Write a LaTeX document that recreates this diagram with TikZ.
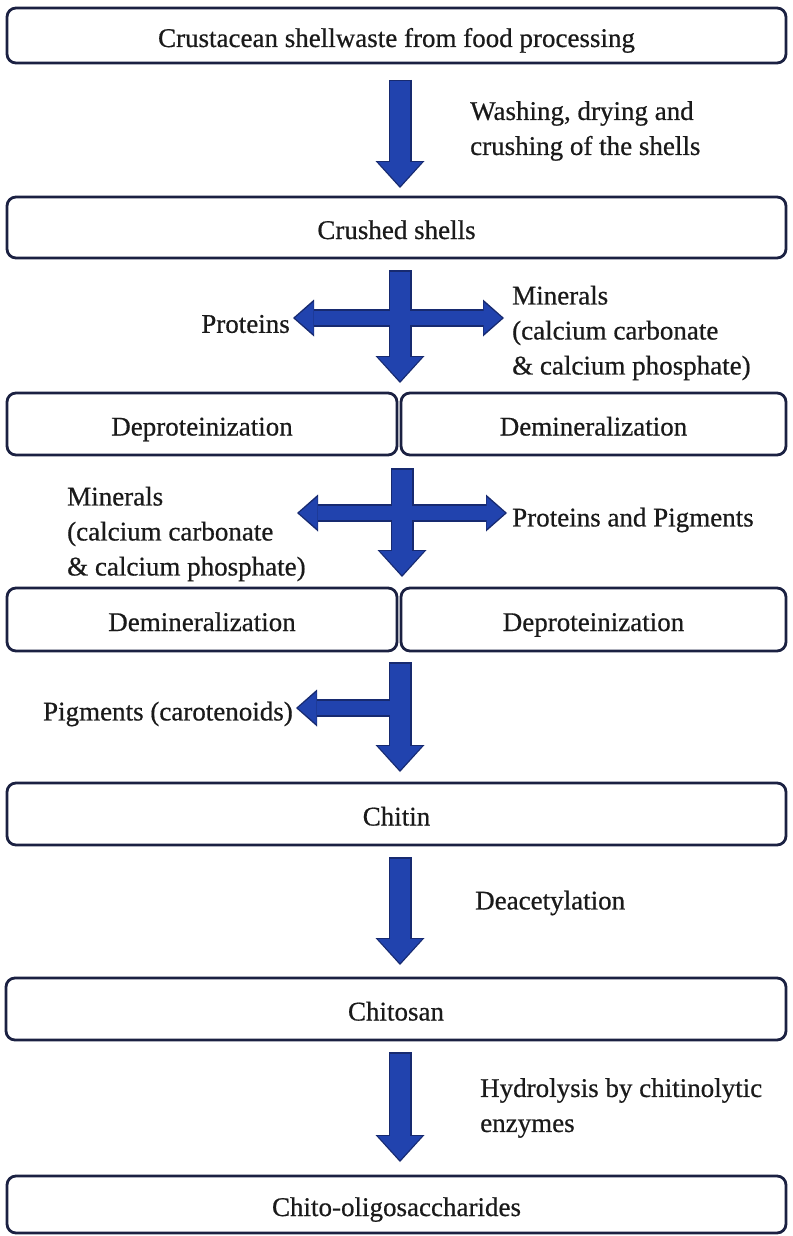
\documentclass[tikz,border=0pt]{standalone}
\usepackage{fontspec}
\setmainfont{Liberation Serif}
\newfontfamily\lblfont{Liberation Serif}[FakeBold=0.6]
\usetikzlibrary{arrows.meta,calc}
\definecolor{boxedge}{HTML}{1B2142}
\definecolor{arrfill}{HTML}{2143AE}
\definecolor{arredge}{HTML}{172A70}
\definecolor{txt}{HTML}{1A1A1A}
\begin{document}
\begin{tikzpicture}[x=1pt,y=-1pt,
 box/.style={draw=boxedge, line width=2.8pt, rounded corners=9pt, fill=white, inner sep=0pt, outer sep=0pt, text height=28pt, text depth=5pt, font=\lblfont\fontsize{27}{35}\selectfont, text=txt},
 lbl/.style={inner sep=0pt, font=\lblfont\fontsize{27}{35}\selectfont, text=txt, align=left},
 vout/.style={draw=arredge, line width=23pt, -{Triangle[width=49pt,length=27pt,line width=0pt]}},
 vin/.style={draw=arrfill, line width=19.5pt, -{Triangle[width=44pt,length=24pt,line width=0pt]}, shorten <=1.5pt, shorten >=2pt},
 hout/.style={draw=arredge, line width=18pt, {Triangle[width=37pt,length=21pt,line width=0pt]}-{Triangle[width=37pt,length=21pt,line width=0pt]}},
 hin/.style={draw=arrfill, line width=14.5pt, {Triangle[width=32pt,length=18.5pt,line width=0pt]}-{Triangle[width=32pt,length=18.5pt,line width=0pt]}, shorten <=2pt, shorten >=2pt},
 lout/.style={draw=arredge, line width=18pt, -{Triangle[width=37pt,length=21pt,line width=0pt]}},
 lin/.style={draw=arrfill, line width=14.5pt, -{Triangle[width=32pt,length=18.5pt,line width=0pt]}, shorten >=2pt},
]
\useasboundingbox (0,0) rectangle (792,1236);
\fill[white] (0,0) rectangle (792,1236);

% boxes
\node[box, minimum width=779pt, minimum height=55pt] (b1) at (396.5,35.5) {Crustacean shellwaste from food processing};
\node[box, minimum width=779pt, minimum height=61pt] (b2) at (396.5,227.5) {Crushed shells};
\node[box, minimum width=390pt, minimum height=62pt] (b3l) at (202,424) {Deproteinization};
\node[box, minimum width=385pt, minimum height=62pt] (b3r) at (593.5,424) {Demineralization};
\node[box, minimum width=390pt, minimum height=63pt] (b4l) at (202,619.5) {Demineralization};
\node[box, minimum width=385pt, minimum height=63pt] (b4r) at (593.5,619.5) {Deproteinization};
\node[box, minimum width=779pt, minimum height=62pt] (chitin) at (396.5,814) {Chitin};
\node[box, minimum width=780pt, minimum height=62pt] (chitosan) at (396,1009) {Chitosan};
\node[box, minimum width=779pt, minimum height=57pt] (cos) at (396.5,1204.5) {Chito-oligosaccharides};

% labels
\node[lbl, anchor=west] (wash) at (470,131) {Washing, drying and\\crushing of the shells};
\node[lbl, anchor=east] (prot) at (290,324) {Proteins};
\node[lbl, anchor=west] (min1) at (512,333) {Minerals\\(calcium carbonate\\\& calcium phosphate)};
\node[lbl, anchor=west] (min2) at (67,534) {Minerals\\(calcium carbonate\\\& calcium phosphate)};
\node[lbl, anchor=west] (pp) at (512,520) {Proteins and Pigments};
\node[lbl, anchor=east] (pig) at (293,714) {Pigments (carotenoids)};
\node[lbl, anchor=west] (deac) at (475,903) {Deacetylation};
\node[lbl, anchor=west] (hyd) at (480,1108) {Hydrolysis by chitinolytic\\enzymes};

% free ends of the side arrows
\coordinate (h1l) at (293,318);
\coordinate (h1r) at (504,318);
\coordinate (h2l) at (297,513);
\coordinate (h2r) at (507,513);
\coordinate (l1) at (400,708);
\coordinate (l2) at (296,708);

% arrow outlines
\draw[vout] ([xshift=3.5pt,yshift=-17pt]b1.south) -- ([xshift=3.5pt,yshift=9pt]b2.north);
\draw[vout] ([xshift=3.5pt,yshift=-12pt]b2.south) -- ([xshift=3pt,yshift=10pt]b3l.north east);
\draw[hout] (h1l) -- (h1r);
\draw[vout] ([xshift=5pt,yshift=-13pt]b3l.south east) -- ([xshift=5pt,yshift=11pt]b4l.north east);
\draw[hout] (h2l) -- (h2r);
\draw[vout] ([xshift=3pt,yshift=-11pt]b4l.south east) -- ([xshift=3.5pt,yshift=11pt]chitin.north);
\draw[lout] (l1) -- (l2);
\draw[vout] ([xshift=3.5pt,yshift=-12pt]chitin.south) -- ([xshift=4pt,yshift=13pt]chitosan.north);
\draw[vout] ([xshift=4pt,yshift=-12pt]chitosan.south) -- ([xshift=3.5pt,yshift=14pt]cos.north);

% arrow fills
\draw[vin] ([xshift=3.5pt,yshift=-17pt]b1.south) -- ([xshift=3.5pt,yshift=9pt]b2.north);
\draw[vin] ([xshift=3.5pt,yshift=-12pt]b2.south) -- ([xshift=3pt,yshift=10pt]b3l.north east);
\draw[hin] (h1l) -- (h1r);
\draw[vin] ([xshift=5pt,yshift=-13pt]b3l.south east) -- ([xshift=5pt,yshift=11pt]b4l.north east);
\draw[hin] (h2l) -- (h2r);
\draw[vin] ([xshift=3pt,yshift=-11pt]b4l.south east) -- ([xshift=3.5pt,yshift=11pt]chitin.north);
\draw[lin] (l1) -- (l2);
\draw[vin] ([xshift=3.5pt,yshift=-12pt]chitin.south) -- ([xshift=4pt,yshift=13pt]chitosan.north);
\draw[vin] ([xshift=4pt,yshift=-12pt]chitosan.south) -- ([xshift=3.5pt,yshift=14pt]cos.north);
\end{tikzpicture}
\end{document}
